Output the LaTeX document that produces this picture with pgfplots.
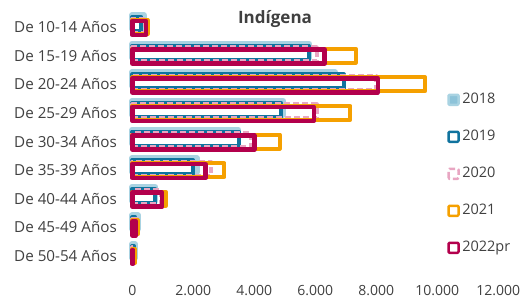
\documentclass[border=0pt]{standalone}
\usepackage{pgfplots}
\pgfplotsset{compat=1.18}
\usepackage{fontspec}
\setmainfont{Open Sans}
\definecolor{c18}{HTML}{A9D3E2}
\definecolor{c18f}{HTML}{8DC3D9}
\definecolor{c19}{HTML}{10739E}
\definecolor{c20}{HTML}{E8A6C2}
\definecolor{c21}{HTML}{F5A000}
\definecolor{c22}{HTML}{B3004C}
\definecolor{txt}{HTML}{404040}
\begin{document}
\begin{tikzpicture}[x=1pt,y=1pt]
\useasboundingbox (0,0) rectangle (523,300);
\begin{axis}[
  at={(132.3pt,29.7pt)}, anchor=south west,
  scale only axis, width=366pt, height=257.6pt,
  xmin=0, xmax=12000, ymin=-0.5, ymax=8.5, y dir=reverse,
  xbar, bar width=14pt, clip=false,
  axis line style={draw=none}, major tick length=0pt,
  xtick={0,2000,4000,6000,8000,10000,12000},
  scaled x ticks=false,
  ytick={0,1,2,3,4,5,6,7,8},
  yticklabels={De 10-14 Años,De 15-19 Años,De 20-24 Años,De 25-29 Años,De 30-34 Años,De 35-39 Años,De 40-44 Años,De 45-49 Años,De 50-54 Años},
  /pgf/number format/assume math mode=true,
  /pgf/number format/.cd, fixed, precision=0, 1000 sep={.}, /pgfplots/.cd,
  xticklabel style={font=\fontsize{14}{16}\selectfont, text=txt, yshift=-12pt},
  yticklabel style={font=\fontsize{15.2}{17}\selectfont, text=txt, xshift=-12pt},
  title={\textbf{Indígena}},
  title style={at={(0.39,0.964)}, anchor=base, yshift=-8pt, font=\fontsize{17}{20}\selectfont, text=txt},
  legend image code/.code={\draw[#1,line width=2.5pt,rounded corners=1pt] (0pt,-5pt) rectangle (10pt,5pt);},
  legend style={at={(0.86,0.69)}, anchor=north west, draw=none, fill=none, inner sep=0pt,
    font=\fontsize{14.5}{16}\selectfont, text=txt, row sep=23pt, column sep=2pt,
    nodes={inner sep=0.5pt, text height=10pt, text depth=3pt}},
  legend cell align=left,
]
\addplot[draw=c18, fill=c18f, line width=6pt, line join=round, bar shift=5pt] coordinates {
(370,0) (5800,1) (6650,2) (4950,3) (3480,4) (2120,5) (760,6) (180,7) (80,8)};
\addlegendentry{2018}
\addplot[draw=c19, fill=white, line width=4pt, line join=round, bar shift=3pt] coordinates {
(300,0) (5790,1) (6930,2) (4880,3) (3510,4) (1990,5) (750,6) (100,7) (50,8)};
\addlegendentry{2019}
\addplot[draw=c20, fill=none, line width=4pt, line join=round, dash pattern=on 6pt off 3pt, bar shift=1.5pt] coordinates {
(420,0) (6050,1) (8000,2) (6050,3) (3900,4) (2580,5) (940,6) (150,7) (70,8)};
\addlegendentry{2020}
\addplot[draw=c21, fill=none, line width=4pt, line join=round, bar shift=0pt] coordinates {
(500,0) (7320,1) (9600,2) (7150,3) (4830,4) (3020,5) (1100,6) (180,7) (90,8)};
\addlegendentry{2021}
\addplot[draw=c22, fill=none, line width=4.5pt, line join=round, bar shift=-1pt] coordinates {
(450,0) (6300,1) (8050,2) (5950,3) (4000,4) (2400,5) (980,6) (120,7) (30,8)};
\addlegendentry{2022pr}
\end{axis}
\end{tikzpicture}
\end{document}
